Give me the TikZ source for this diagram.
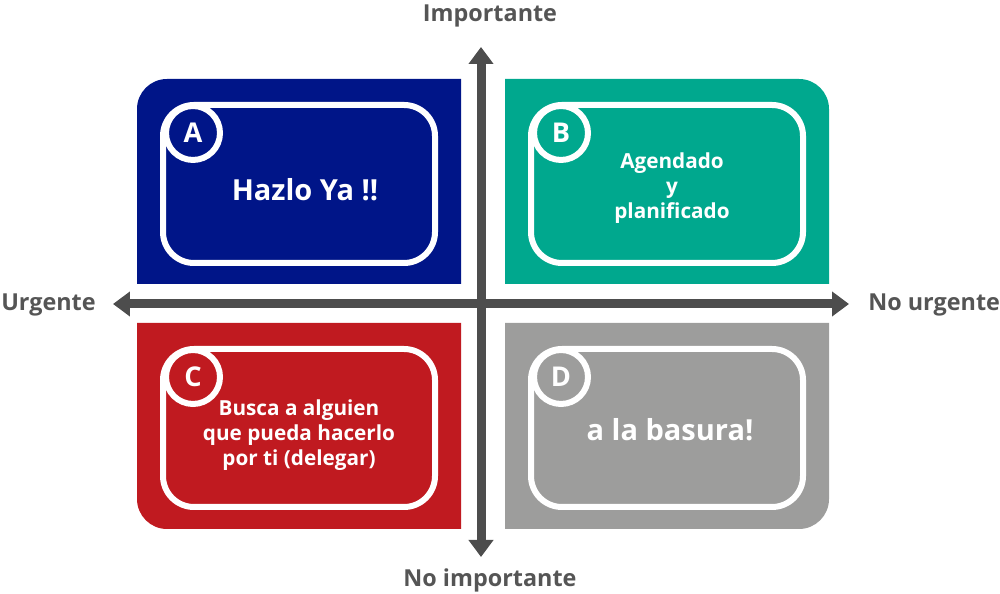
\documentclass[tikz,border=0pt]{standalone}
\usepackage{fontspec}
\setmainfont{Open Sans}
\usepackage{tikz}
\usetikzlibrary{arrows.meta}
\newcommand{\rc}{0.6cm}
\newcommand{\rb}{0.62cm}
\newcommand{\taille}[1]{\fontsize{#1}{\dimexpr #1*12/10}\selectfont}
\definecolor{bleuq}{RGB}{0,21,136}
\definecolor{vertq}{RGB}{0,168,142}
\definecolor{rougeq}{RGB}{192,26,32}
\definecolor{grisq}{RGB}{157,157,156}
\definecolor{grisaxe}{RGB}{77,77,77}
\definecolor{gristexte}{RGB}{85,85,85}
\tikzstyle{bord}=[white,line width=0.12cm,rounded corners=\rb]
\tikzstyle{rond}=[circle,draw=white,line width=0.12cm,minimum size=1.08cm,inner sep=0pt,text=white,font=\bfseries\taille{15.5pt}]
\tikzstyle{texte}=[text=white,font=\bfseries\taille{16.5pt},align=center]
\tikzstyle{petit}=[text=white,font=\bfseries\taille{11.8pt},align=center]
\tikzstyle{axe}=[line width=0.18cm,grisaxe,{Triangle[width=0.48cm,length=0.34cm]}-{Triangle[width=0.48cm,length=0.34cm]}]
\tikzstyle{titre}=[text=gristexte,font=\bfseries\taille{13.3pt},inner sep=0pt]

\begin{document}
\begin{tikzpicture}[x=0.02cm,y=0.02cm]
\useasboundingbox (0,0) rectangle (1000,594);

\begin{scope}[shift={(137,515)}]
\fill[bleuq] (324,0) -- (30,0) arc (90:180:\rc) -- (0,-205) -- (324,-205) -- cycle;
\draw[bord] (26,-26) rectangle (298,-184);
\node[rond,fill=bleuq] (rA) at (56,-54) {A};
\node[texte] (tA) at (168,-111) {Hazlo Ya !!};
\end{scope}

\begin{scope}[shift={(505,515)}]
\fill[vertq] (0,0) -- (294,0) arc (90:0:\rc) -- (324,-205) -- (0,-205) -- cycle;
\draw[bord] (26,-26) rectangle (298,-184);
\node[rond,fill=vertq] (rB) at (56,-54) {B};
\node[petit] (tB) at (167,-109) {Agendado\\y\\planificado};
\end{scope}

\begin{scope}[shift={(137,271)}]
\fill[rougeq] (0,0) -- (324,0) -- (324,-206) -- (30,-206) arc (270:180:\rc) -- cycle;
\draw[bord] (26,-26) rectangle (298,-184);
\node[rond,fill=rougeq] (rC) at (56,-54) {C};
\node[petit] (tC) at (162,-112) {Busca a alguien\\que pueda hacerlo\\por ti (delegar)};
\end{scope}

\begin{scope}[shift={(505,271)}]
\fill[grisq] (0,0) -- (324,0) -- (324,-176) arc (0:-90:\rc) -- (0,-206) -- cycle;
\draw[bord] (26,-26) rectangle (298,-184);
\node[rond,fill=grisq] (rD) at (56,-54) {D};
\node[texte] (tD) at (165,-107) {a la basura!};
\end{scope}

% axes
\coordinate (gauche) at (113,290);
\coordinate (droite) at (849,290);
\coordinate (haut) at (481,547);
\coordinate (bas) at (481,37);
\draw[axe] (gauche) -- (droite);
\draw[axe] (bas) -- (haut);

\node[titre,anchor=base] (imp) at (490,572) {Importante};
\node[titre,anchor=base] (noimp) at (490,7) {No importante};
\node[titre,anchor=base east] (urg) at (96,283) {Urgente};
\node[titre,anchor=base west] (nourg) at (868,283) {No urgente};

\end{tikzpicture}
\end{document}
